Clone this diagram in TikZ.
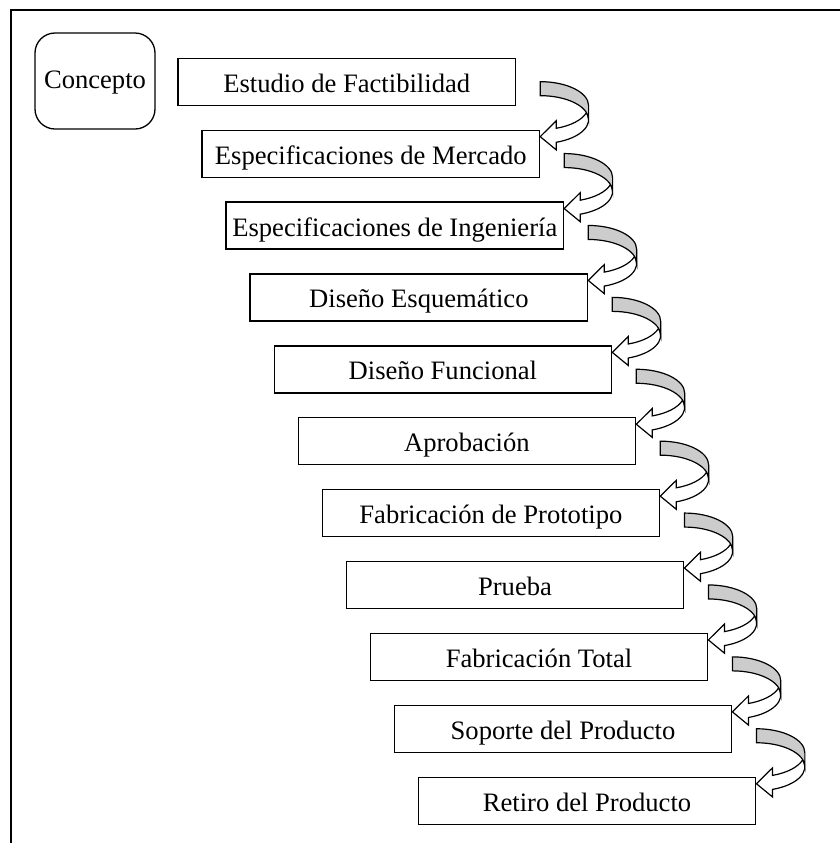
\documentclass[tikz,border=0pt]{standalone}
\usepackage{fontspec}
\setmainfont{Liberation Serif}
\usetikzlibrary{calc}
\definecolor{foldgray}{RGB}{204,204,204}
\begin{document}
\begin{tikzpicture}[x=0.5pt,y=0.5pt,
  labelfont/.style={font=\fontsize{13.3}{16}\selectfont},
  stage/.style={labelfont, draw, line width=0.65pt, rectangle, inner sep=0pt,
    minimum width=168.75pt, minimum height=23.5pt,
    text height=12.4pt, text depth=2pt},
  startbox/.style={labelfont, draw, line width=0.65pt, rounded corners=10pt,
    inner sep=0pt, minimum width=60pt, minimum height=48pt,
    text height=11pt, text depth=3.7pt},
  frameline/.style={line width=0.85pt},
  backfold/.style={fill=foldgray, draw, line width=0.6pt, line join=miter},
  frontband/.style={fill=white, draw, line width=0.6pt, line join=miter},
]
\useasboundingbox (0,0) rectangle (840,-843);

% page frame (top and left edges)
\draw[frameline] (11,-843) -- (11,-10) -- (840,-10);

% start node
\node[startbox] (c) at (95,-81) {Concepto};

% process stages
\node[stage] (b1)  at (346.75,-81.8)  {Estudio de Factibilidad};
\node[stage] (b2)  at (370.8,-153.7)  {Especificaciones de Mercado};
\node[stage] (b3)  at (394.8,-225.6)  {Especificaciones de Ingeniería};
\node[stage] (b4)  at (418.85,-297.5) {Diseño Esquemático};
\node[stage] (b5)  at (442.9,-369.4)  {Diseño Funcional};
\node[stage] (b6)  at (466.9,-441.3)  {Aprobación};
\node[stage] (b7)  at (490.9,-513.2)  {Fabricación de Prototipo};
\node[stage] (b8)  at (515,-585.1)    {Prueba};
\node[stage] (b9)  at (539,-657.0)    {Fabricación Total};
\node[stage] (b10) at (563,-728.9)    {Soporte del Producto};
\node[stage] (b11) at (587.05,-800.8) {Retiro del Producto};

% curved arrows leading from each stage to the next one
\foreach \i in {1,...,10} {
  \pgfmathtruncatemacro\j{\i+1}
  \begin{scope}[shift={($(b\j.east |- b\i.north)+(0,-24)$)}]
    % front band with arrow head
    \draw[frontband] (0,-55) -- (16,-39.15) -- (16,-46.65)
      arc[start angle=-70.697, end angle=-16.957, x radius=24.2pt, y radius=12pt]
      arc[start angle=16.957, end angle=-70.697, x radius=24.2pt, y radius=12pt]
      -- (16,-68.15) -- cycle;
    % shaded back of the band
    \draw[backfold] (48.4,-38)
      arc[start angle=0, end angle=90, x radius=24.2pt, y radius=12pt]
      -- (0,0)
      arc[start angle=90, end angle=0, x radius=24.2pt, y radius=12pt]
      -- cycle;
  \end{scope}
}
\end{tikzpicture}
\end{document}
